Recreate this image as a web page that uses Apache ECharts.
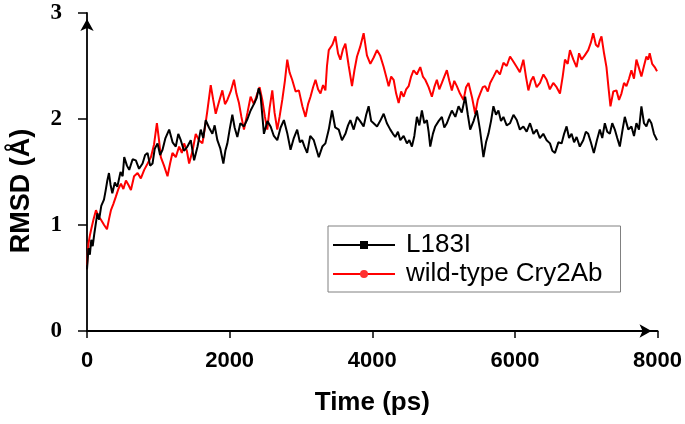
<!DOCTYPE html>
<html>
<head>
<meta charset="utf-8">
<script src="https://cdn.jsdelivr.net/npm/echarts@6/dist/echarts.min.js"></script>
<style>
html,body{margin:0;padding:0;background:#fff;}
#chart{width:685px;height:424px;}
</style>
</head>
<body>
<div id="chart"></div>
<script>
// ---- Data ----
const seriesNames = ['L183I', 'wild-type Cry2Ab'];
const xTicks = [0, 2000, 4000, 6000, 8000];
const yTicks = [0, 1, 2, 3];

const blackTimes = [0,20,40,60,80,103,125,145,170,200,238,260,285,308,330,355,390,425,470,500,522,560,592,640,685,730,779,815,849,885,919,950,989,1025,1059,1100,1152,1200,1245,1280,1315,1360,1408,1455,1502,1550,1595,1630,1665,1710,1758,1790,1828,1870,1912,1940,1968,2000,2038,2070,2108,2150,2201,2250,2294,2340,2380,2408,2434,2460,2481,2530,2574,2620,2668,2715,2761,2810,2854,2900,2947,2985,3017,3050,3087,3130,3180,3215,3250,3300,3343,3390,3436,3480,3530,3575,3623,3660,3693,3740,3786,3830,3879,3915,3949,3985,4019,4067,4110,4160,4205,4253,4290,4323,4360,4393,4440,4486,4520,4556,4590,4626,4660,4696,4730,4766,4790,4813,4850,4883,4930,4976,5010,5046,5080,5116,5165,5210,5255,5303,5340,5373,5420,5466,5510,5559,5595,5629,5665,5699,5735,5769,5805,5839,5885,5932,5980,6026,6070,6119,6165,6212,6260,6305,6350,6398,6445,6492,6525,6562,6610,6655,6690,6725,6760,6795,6830,6865,6910,6958,6995,7028,7065,7107,7150,7191,7225,7261,7295,7331,7365,7401,7435,7471,7505,7541,7590,7634,7670,7704,7740,7774,7810,7844,7880,7914,7950,7993];
const blackValues = [0.58,0.78,0.72,0.86,0.80,0.92,1.02,1.11,1.05,1.18,1.24,1.32,1.42,1.49,1.38,1.30,1.40,1.36,1.50,1.46,1.64,1.56,1.52,1.62,1.61,1.53,1.58,1.66,1.68,1.56,1.58,1.72,1.77,1.66,1.71,1.82,1.90,1.78,1.74,1.86,1.80,1.70,1.74,1.80,1.61,1.74,1.90,1.82,1.99,1.92,1.86,1.94,1.80,1.72,1.58,1.70,1.77,1.90,2.04,1.92,1.83,1.96,1.93,2.00,2.08,2.14,2.20,2.29,2.22,2.02,1.86,1.98,1.93,1.84,1.80,1.92,1.99,1.86,1.71,1.82,1.90,1.78,1.80,1.74,1.68,1.84,1.80,1.72,1.64,1.74,1.77,1.90,2.08,1.92,1.90,1.80,1.86,1.94,1.99,1.90,2.02,1.98,1.93,2.04,2.12,1.98,1.96,1.93,1.98,2.05,1.96,1.90,1.86,1.83,1.88,1.80,1.84,1.77,1.80,1.74,1.84,2.02,1.94,2.08,1.96,1.99,1.88,1.74,1.86,1.93,1.98,2.02,1.92,1.96,2.02,2.08,2.02,2.12,2.06,2.21,2.04,1.90,1.98,2.08,1.90,1.64,1.78,1.86,1.98,2.12,2.04,2.08,1.98,2.02,1.94,1.96,2.04,1.99,1.90,1.93,1.88,1.96,1.86,1.90,1.82,1.86,1.80,1.77,1.70,1.68,1.78,1.77,1.86,1.93,1.82,1.86,1.78,1.83,1.74,1.80,1.88,1.86,1.78,1.68,1.80,1.90,1.82,1.96,1.88,1.86,1.96,1.90,1.82,1.74,1.88,2.02,1.90,1.93,1.84,1.96,1.90,2.12,1.96,1.93,2.00,1.96,1.86,1.80];

const redTimes = [0,20,40,56,90,126,160,196,240,280,310,336,370,406,440,476,510,546,580,616,660,709,755,802,850,896,940,980,1010,1035,1080,1129,1165,1198,1245,1292,1330,1362,1400,1432,1480,1525,1570,1618,1650,1688,1735,1770,1805,1850,1898,1935,1968,2015,2061,2095,2131,2165,2201,2250,2294,2340,2388,2420,2458,2495,2528,2560,2598,2630,2668,2700,2738,2775,2808,2840,2877,2925,2971,3020,3064,3100,3134,3170,3204,3240,3274,3310,3343,3365,3390,3440,3483,3520,3553,3590,3623,3670,3716,3750,3786,3830,3879,3925,3973,4020,4066,4110,4160,4195,4230,4265,4300,4335,4370,4405,4440,4475,4510,4545,4579,4625,4673,4710,4743,4790,4836,4870,4906,4940,4976,5010,5046,5080,5116,5150,5186,5230,5280,5315,5350,5400,5443,5480,5513,5550,5583,5620,5653,5700,5746,5790,5839,5885,5932,5980,6026,6070,6119,6155,6189,6225,6259,6305,6352,6400,6445,6490,6538,6585,6632,6670,6702,6740,6772,6820,6865,6900,6935,6980,7028,7065,7098,7135,7168,7190,7214,7250,7284,7315,7340,7380,7424,7460,7494,7530,7564,7600,7634,7670,7704,7740,7774,7810,7844,7870,7890,7925,7960,7993];
const redValues = [0.62,0.82,0.90,0.95,1.05,1.14,1.08,1.05,1.00,0.96,1.06,1.14,1.20,1.27,1.34,1.39,1.34,1.42,1.38,1.33,1.46,1.49,1.44,1.52,1.58,1.64,1.76,1.96,1.80,1.64,1.56,1.46,1.58,1.68,1.64,1.74,1.68,1.77,1.70,1.58,1.70,1.86,1.80,1.77,1.90,2.08,2.32,2.18,2.05,2.16,2.27,2.14,2.18,2.26,2.37,2.24,2.15,2.02,1.90,2.06,2.21,2.14,2.24,2.30,2.18,2.02,1.90,2.10,2.27,2.06,1.90,2.02,2.18,2.36,2.56,2.44,2.37,2.26,2.27,2.12,2.02,2.14,2.21,2.30,2.37,2.28,2.24,2.32,2.27,2.50,2.65,2.70,2.78,2.62,2.56,2.66,2.71,2.50,2.31,2.46,2.59,2.68,2.81,2.60,2.52,2.58,2.65,2.60,2.49,2.40,2.31,2.40,2.37,2.24,2.15,2.26,2.21,2.28,2.31,2.40,2.46,2.42,2.49,2.40,2.37,2.30,2.21,2.30,2.37,2.28,2.34,2.40,2.46,2.36,2.27,2.36,2.31,2.24,2.18,2.30,2.34,2.20,2.05,2.18,2.24,2.30,2.31,2.26,2.34,2.40,2.46,2.42,2.53,2.50,2.59,2.54,2.49,2.44,2.56,2.40,2.27,2.36,2.40,2.30,2.34,2.42,2.37,2.28,2.34,2.30,2.24,2.40,2.56,2.52,2.65,2.56,2.49,2.62,2.56,2.60,2.65,2.72,2.81,2.70,2.68,2.74,2.78,2.62,2.49,2.28,2.12,2.26,2.27,2.18,2.24,2.34,2.31,2.38,2.46,2.38,2.56,2.48,2.40,2.50,2.59,2.56,2.62,2.52,2.49,2.45];

// ---- Build chart ----
function zip(ts, vs) { return ts.map((t, i) => [t, vs[i]]); }

const chart = echarts.init(document.getElementById('chart'), null, {renderer: 'canvas'});
const option = {
  backgroundColor: '#ffffff',
  animation: false,
  grid: {left: 86, right: 27, top: 13, bottom: 93, containLabel: false},
  legend: {
    data: [seriesNames[0], seriesNames[1]],
    orient: 'vertical',
    left: 328,
    top: 226,
    padding: [6, 18, 5, 4],
    itemGap: 3,
    itemWidth: 62,
    itemHeight: 10,
    borderColor: '#808080',
    borderWidth: 1,
    textStyle: {fontFamily: 'Liberation Sans', fontSize: 26, color: '#000', lineHeight: 26, padding: [0, 0, 0, 6]}
  },
  xAxis: {
    type: 'value',
    min: xTicks[0],
    max: xTicks[xTicks.length - 1],
    interval: 2000,
    name: 'Time (ps)',
    nameLocation: 'middle',
    nameGap: 59,
    nameTextStyle: {fontFamily: 'Liberation Sans', fontWeight: 'bold', fontSize: 26, color: '#000'},
    splitLine: {show: false},
    axisLine: {lineStyle: {color: '#000', width: 1.8}, symbol: ['none', 'arrow'], symbolSize: [10, 12], symbolOffset: [0, -6]},
    axisTick: {show: true, length: 7, lineStyle: {color: '#000', width: 1.5}},
    axisLabel: {fontFamily: 'Liberation Sans', fontWeight: 'bold', fontSize: 22, color: '#000', margin: 19,
      formatter: function (v) { return String(v); }}
  },
  yAxis: {
    type: 'value',
    min: yTicks[0],
    max: yTicks[yTicks.length - 1],
    interval: 1,
    name: 'RMSD (Å)',
    nameLocation: 'middle',
    nameRotate: 90,
    nameGap: 52,
    nameTextStyle: {fontFamily: 'Liberation Sans', fontWeight: 'bold', fontSize: 27, color: '#000', padding: [0, 38, 0, 0]},
    splitLine: {show: false},
    axisLine: {lineStyle: {color: '#000', width: 1.8}, symbol: ['none', 'arrow'], symbolSize: [10, 12], symbolOffset: [0, -6]},
    axisTick: {show: true, length: 9, lineStyle: {color: '#000', width: 1.5}},
    axisLabel: {fontFamily: 'Liberation Serif', fontWeight: 'bold', fontSize: 23, color: '#000', margin: 25}
  },
  series: [
    {
      name: seriesNames[1],
      type: 'line',
      data: zip(redTimes, redValues),
      symbol: 'circle',
      showSymbol: false,
      lineStyle: {color: '#ff0000', width: 2},
      itemStyle: {color: '#ff3030'},
      z: 2
    },
    {
      name: seriesNames[0],
      type: 'line',
      data: zip(blackTimes, blackValues),
      symbol: 'rect',
      showSymbol: false,
      lineStyle: {color: '#000000', width: 2},
      itemStyle: {color: '#000000'},
      z: 3
    }
  ]
};
chart.setOption(option);
</script>
</body>
</html>
